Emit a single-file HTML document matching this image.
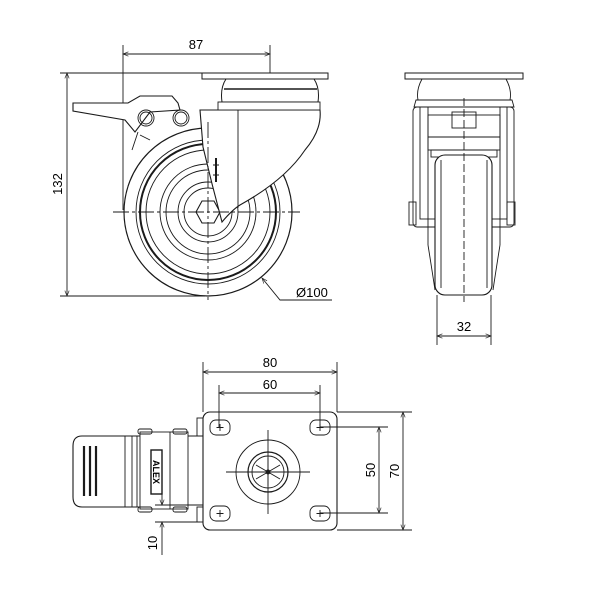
<!DOCTYPE html>
<html><head><meta charset="utf-8"><style>html,body{margin:0;padding:0;background:#fff}svg{display:block}text{font-family:"Liberation Sans",sans-serif;font-size:13px;fill:#000}</style></head>
<body>
<svg width="600" height="600" viewBox="0 0 600 600" xmlns="http://www.w3.org/2000/svg">
<defs>
<marker id="a" viewBox="0 0 10 10" refX="10" refY="5" markerWidth="8" markerHeight="6" orient="auto-start-reverse"><path d="M0,1 L10,5 L0,9" fill="none" stroke="#222" stroke-width="1.2"/></marker>
</defs>
<g fill="none" stroke="#1a1a1a" stroke-width="0.9">
<line x1="123" y1="45" x2="123" y2="210"/>
<line x1="270" y1="45" x2="270" y2="73"/>
<line x1="123" y1="54" x2="270" y2="54" marker-start="url(#a)" marker-end="url(#a)"/>
<line x1="60" y1="73" x2="202" y2="73"/>
<line x1="60" y1="296" x2="205" y2="296"/>
<line x1="67" y1="73" x2="67" y2="296" marker-start="url(#a)" marker-end="url(#a)"/>
<circle cx="208" cy="212" r="84" stroke-width="1.2"/>
<circle cx="208" cy="212" r="72"/>
<circle cx="208" cy="212" r="68" stroke-width="2"/>
<circle cx="208" cy="212" r="62"/>
<circle cx="208" cy="212" r="48"/>
<circle cx="208" cy="212" r="42"/>
<circle cx="208" cy="212" r="30"/>
<circle cx="208" cy="212" r="24"/>
<polygon points="202,201 214,201 220,212 214,223 202,223 196,212" stroke-width="1.1"/>
<path d="M200,110 L320,110 Q322,130 305,150 Q285,180 240,205 Q232,210 222,222 Q212,185 203,147 L200,110 Z" fill="#fff" stroke-width="1.1"/>
<line x1="238" y1="110" x2="238" y2="208"/>
<line x1="216" y1="158" x2="216" y2="182" stroke-width="2"/>
<path d="M213,165 l6,0 M213,175 l6,0"/>
<rect x="202" y="73" width="126" height="6" fill="#fff" stroke-width="1"/>
<path d="M226,79 L314,79 Q320,88 318,102 L222,102 Q220,88 226,79 Z" fill="#fff" stroke-width="1"/>
<line x1="224" y1="89" x2="317" y2="89" stroke-width="1.5"/>
<rect x="218" y="102" width="102" height="8" fill="#fff"/>
<path d="M73,103 L128,103 L140,96 L172,96 L178,103 L180,110 L150,112 L135,132 L125,120 L73,111 Z" fill="#fff" stroke-width="1.1"/>
<circle cx="146" cy="118" r="6"/><circle cx="146" cy="118" r="8"/>
<circle cx="181" cy="118" r="6"/><circle cx="181" cy="118" r="8"/>
<path d="M138,132 L132,150 M140,135 L150,140"/>
<line x1="113" y1="212" x2="300" y2="212" stroke-dasharray="16,3,3,3"/>
<line x1="208" y1="122" x2="208" y2="300" stroke-dasharray="16,3,3,3"/>
<polyline points="262,278 280,300 332,300" marker-start="url(#a)"/>
<rect x="405" y="73" width="118" height="6" fill="#fff" stroke-width="1"/>
<path d="M422,79 L506,79 Q512,90 510,100 L418,100 Q416,90 422,79 Z"/>
<path d="M416,100 L512,100 L514,107 L414,107 Z"/>
<rect x="413" y="107" width="101" height="120" rx="4"/>
<rect x="420" y="107" width="87" height="112"/>
<line x1="428" y1="107" x2="428" y2="245"/><line x1="500" y1="107" x2="500" y2="245"/>
<rect x="428" y="115" width="72" height="35"/>
<rect x="452" y="112" width="24" height="16"/>
<line x1="428" y1="137" x2="500" y2="137"/>
<rect x="409" y="202" width="7" height="23"/><rect x="507" y="202" width="8" height="23"/>
<path d="M428,245 Q432,270 435,290 M500,245 Q496,270 493,290"/>
<rect x="431" y="150" width="66" height="7"/>
<rect x="435" y="155" width="57" height="140" rx="10" fill="#fff" stroke-width="1.1"/>
<line x1="441" y1="160" x2="441" y2="288"/><line x1="487" y1="160" x2="487" y2="288"/>
<line x1="464" y1="98" x2="464" y2="302" stroke-dasharray="8,3"/>
<line x1="437" y1="295" x2="437" y2="345"/><line x1="491" y1="295" x2="491" y2="345"/>
<line x1="437" y1="336" x2="491" y2="336" marker-start="url(#a)" marker-end="url(#a)"/>
<line x1="203" y1="362" x2="203" y2="412"/><line x1="337" y1="362" x2="337" y2="412"/>
<line x1="203" y1="372" x2="337" y2="372" marker-start="url(#a)" marker-end="url(#a)"/>
<line x1="219" y1="385" x2="219" y2="427"/><line x1="320" y1="385" x2="320" y2="427"/>
<line x1="219" y1="393" x2="320" y2="393" marker-start="url(#a)" marker-end="url(#a)"/>
<line x1="337" y1="412" x2="412" y2="412"/><line x1="337" y1="530" x2="412" y2="530"/>
<line x1="403" y1="412" x2="403" y2="530" marker-start="url(#a)" marker-end="url(#a)"/>
<line x1="320" y1="427" x2="388" y2="427"/><line x1="320" y1="513" x2="388" y2="513"/>
<line x1="379" y1="427" x2="379" y2="513" marker-start="url(#a)" marker-end="url(#a)"/>
<rect x="203" y="412" width="134" height="118" rx="7" stroke-width="1.1"/>
<rect x="210" y="420" width="20" height="15" rx="6"/><rect x="310" y="420" width="20" height="15" rx="6"/>
<rect x="210" y="506" width="20" height="15" rx="6"/><rect x="310" y="506" width="20" height="15" rx="6"/>
<path d="M220,424 v7 M216.5,427.5 h7 M320,424 v7 M316.5,427.5 h7 M220,510 v7 M216.5,513.5 h7 M320,510 v7 M316.5,513.5 h7"/>
<circle cx="268" cy="472" r="32"/>
<circle cx="268" cy="472" r="20" stroke-width="1.2"/>
<circle cx="268" cy="472" r="16"/>
<path d="M268,458 L268,486 M256,465 L280,479 M256,479 L280,465"/>
<circle cx="268" cy="472" r="2" fill="#222"/>
<line x1="268" y1="430" x2="268" y2="514"/><line x1="226" y1="472" x2="310" y2="472"/>
<path d="M140,436 L82,436 Q73,436 73,446 L73,497 Q73,507 82,507 L140,507" stroke-width="1.1"/>
<line x1="84" y1="446" x2="84" y2="496" stroke-width="2.2"/><line x1="90" y1="446" x2="90" y2="496" stroke-width="2.2"/><line x1="96" y1="446" x2="96" y2="496" stroke-width="2.2"/>
<line x1="125" y1="436" x2="125" y2="507"/><line x1="132" y1="436" x2="132" y2="507"/><line x1="137" y1="436" x2="137" y2="507"/>
<rect x="140" y="432" width="48" height="77"/>
<line x1="170" y1="432" x2="170" y2="509"/>
<rect x="138" y="429" width="14" height="5" rx="2"/><rect x="173" y="429" width="14" height="5" rx="2"/>
<rect x="138" y="507" width="14" height="5" rx="2"/><rect x="173" y="507" width="14" height="5" rx="2"/>
<path d="M188,436 L203,436 M188,505 L203,505"/>
<rect x="197" y="418" width="6" height="18"/><rect x="197" y="507" width="6" height="15"/>
<rect x="151" y="450" width="11" height="44" stroke-width="1.4"/>
<line x1="155" y1="505" x2="200" y2="505"/><line x1="155" y1="522" x2="200" y2="522"/>
<line x1="162" y1="488" x2="162" y2="505" marker-end="url(#a)"/>
<line x1="162" y1="555" x2="162" y2="522" marker-end="url(#a)"/>
</g>
<text x="196" y="49" text-anchor="middle">87</text>
<text transform="translate(62,184) rotate(-90)" text-anchor="middle">132</text>
<text x="296" y="297">Ø100</text>
<text x="464" y="331" text-anchor="middle">32</text>
<text x="270" y="367" text-anchor="middle">80</text>
<text x="270" y="389" text-anchor="middle">60</text>
<text transform="translate(375,470) rotate(-90)" text-anchor="middle">50</text>
<text transform="translate(399,471) rotate(-90)" text-anchor="middle">70</text>
<text transform="translate(157,543) rotate(-90)" text-anchor="middle">10</text>
<text transform="translate(153,472) rotate(90)" text-anchor="middle" style="font-size:9px;font-weight:bold">ALEX</text>
</svg>
</body></html>
